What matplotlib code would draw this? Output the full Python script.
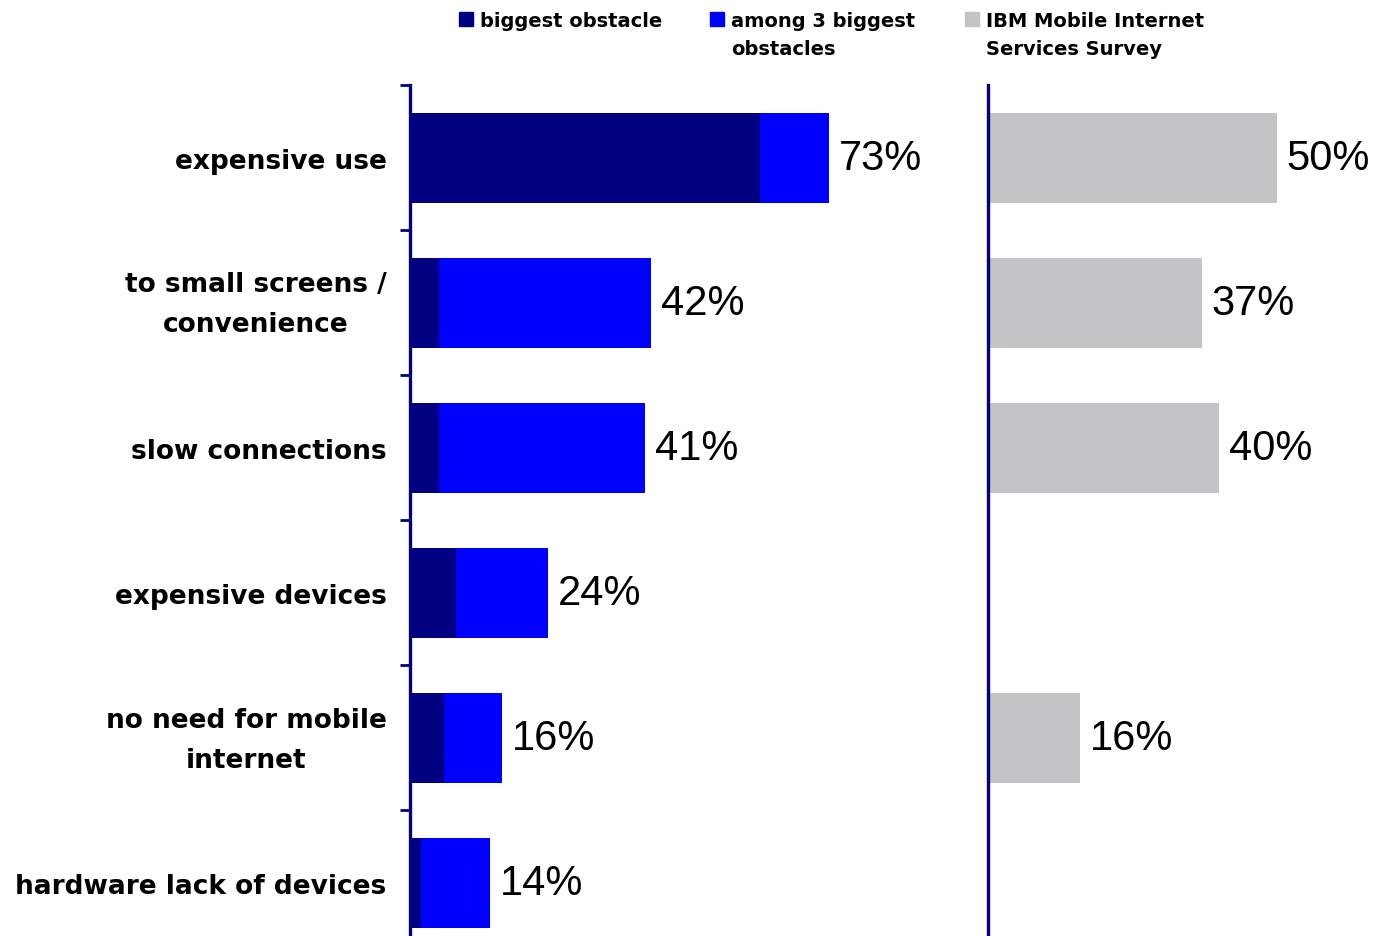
import numpy as np
import matplotlib.pyplot as plt
import matplotlib.transforms as mtransforms
from matplotlib.patches import Rectangle

categories = ["expensive use", "to small screens /\nconvenience", "slow connections",
              "expensive devices", "no need for mobile\ninternet", "hardware lack of devices"]
biggest = [61, 5, 5, 8, 6, 2]
among3 = [73, 42, 41, 24, 16, 14]
ibm = [50, 37, 40, np.nan, 16, np.nan]

legend_labels = ["biggest obstacle", "among 3 biggest\nobstacles", "IBM Mobile Internet\nServices Survey"]

NAVY = "#000080"
BLUE = "#0000ff"
GREY = "#c4c3c6"

fig = plt.figure(figsize=(13.76, 9.37), dpi=100)
W, H = 1376, 937

y = np.arange(len(categories))
bar_h = 0.62
ytop, ybot = -0.5, (H - 159) / 145

ax1 = fig.add_axes([410 / W, 0, 550 / W, (H - 86) / H])
ax2 = fig.add_axes([988 / W, 0, 388 / W, (H - 86) / H])

ax1.barh(y, among3, height=bar_h, color=BLUE)
ax1.barh(y, biggest, height=bar_h, color=NAVY)
for yi, v in zip(y, among3):
    ax1.annotate(f"{v}%", (v, yi), xytext=(7, 0), textcoords="offset points",
                 va="center", ha="left", fontsize=30, family="Liberation Sans")
ax1.set_xlim(0, 550 / 5.74)

ax2.barh(y, ibm, height=bar_h, color=GREY)
for yi, v in zip(y, ibm):
    if not np.isnan(v):
        ax2.annotate(f"{v:.0f}%", (v, yi), xytext=(7, 0), textcoords="offset points",
                     va="center", ha="left", fontsize=30, family="Liberation Sans")
ax2.set_xlim(0, 388 / 5.78)

# boundary ticks on the left panel, labels at the bar centres
ax1.set_yticks(np.arange(-0.5, len(categories), 1.0))
ax1.set_yticklabels([])
ax1.tick_params(axis="y", which="major", length=7, width=2, color=NAVY, direction="out")
ax1.set_yticks(y, minor=True)
ax1.set_yticklabels(categories, minor=True, fontsize=19, fontweight="bold",
                    multialignment="center", linespacing=1.7)
ax1.tick_params(axis="y", which="minor", length=0, pad=17)
ax2.set_yticks([])

# two-line labels sit a bit low, nudge them up
nudge = mtransforms.ScaledTranslation(0, 6 / 72, fig.dpi_scale_trans)
for lab in ax1.get_yticklabels(minor=True):
    if "\n" in lab.get_text():
        lab.set_transform(lab.get_transform() + nudge)

for ax in (ax1, ax2):
    ax.set_ylim(ybot, ytop)
    for s in ("top", "right", "bottom"):
        ax.spines[s].set_visible(False)
    ax.spines["left"].set_color(NAVY)
    ax.spines["left"].set_linewidth(2.4)
    ax.set_xticks([])
    ax.patch.set_alpha(0)

# legend across the top
leg_x = [459, 710, 965]
leg_c = [NAVY, BLUE, GREY]
for x0, c, lab in zip(leg_x, leg_c, legend_labels):
    fig.patches.append(Rectangle((x0 / W, 1 - 27 / H), 14 / W, 14 / H,
                                 transform=fig.transFigure, color=c))
    fig.text((x0 + 21) / W, 1 - 12 / H, lab, fontsize=14, fontweight="bold",
             va="top", ha="left", linespacing=1.6)

fig.savefig("out.png", dpi=100)
